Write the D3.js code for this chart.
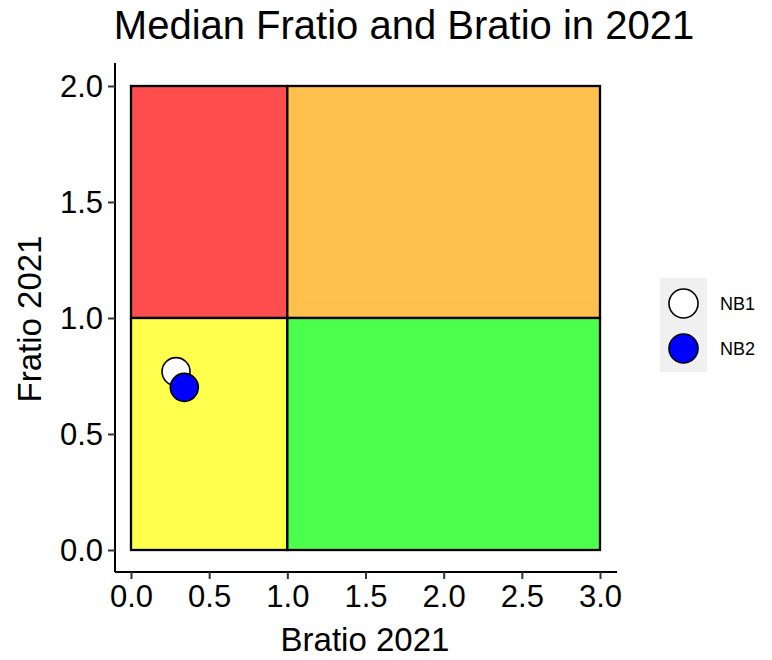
<!DOCTYPE html>
<html><head><meta charset="utf-8">
<script src="https://cdn.jsdelivr.net/npm/d3@7"></script>
<style>body{margin:0;background:#fff;font-family:"Liberation Sans",Arial,sans-serif;}</style>
</head><body>
<svg id="chart" width="772" height="660"></svg>
<script>
// Data
const zones = ["lowB_highF","highB_highF","lowB_lowF","highB_lowF"];
const zoneX0 = [0,1,0,1];
const zoneX1 = [1,3,1,3];
const zoneY0 = [1,1,0,0];
const zoneY1 = [2,2,1,1];
const zoneColors = ["#FF4D4D","#FFC04D","#FFFF4D","#4DFF4D"];
const seriesNames = ["NB1","NB2"];
const bratio = [0.288,0.341];
const fratio = [0.769,0.701];
const seriesFill = ["#FFFFFF","#0000FF"];
const xTicks = [0,0.5,1,1.5,2,2.5,3];
const yTicks = [0,0.5,1,1.5,2];

const svg = d3.select("#chart");
const x = d3.scaleLinear().domain([0,3]).range([131,600]);
const y = d3.scaleLinear().domain([0,2]).range([550,86]);
const xAxisY = 572, yAxisX = 115;

// zones
svg.append("g").selectAll("rect").data(zones).join("rect")
  .attr("x",(d,i)=>x(zoneX0[i])).attr("y",(d,i)=>y(zoneY1[i]))
  .attr("width",(d,i)=>x(zoneX1[i])-x(zoneX0[i]))
  .attr("height",(d,i)=>y(zoneY0[i])-y(zoneY1[i]))
  .attr("fill",(d,i)=>zoneColors[i]).attr("stroke","#000").attr("stroke-width",2.3);

// axes
const fmt = d3.format(".1f");
const xa = svg.append("g").attr("transform",`translate(0,${xAxisY})`)
  .call(d3.axisBottom(x).tickValues(xTicks).tickFormat(fmt).tickSize(7).tickPadding(6).tickSizeOuter(0));
xa.select(".domain").attr("d",`M${yAxisX},0H617`).attr("stroke-width",2);
const ya = svg.append("g").attr("transform",`translate(${yAxisX},0)`)
  .call(d3.axisLeft(y).tickValues(yTicks).tickFormat(fmt).tickSize(7).tickPadding(5).tickSizeOuter(0));
ya.select(".domain").attr("d",`M0,63V${xAxisY}`).attr("stroke-width",2);
svg.selectAll(".tick line").attr("stroke","#333").attr("stroke-width",2);
svg.selectAll(".tick text").attr("font-size",31).attr("fill","#000")
  .attr("font-family","Liberation Sans, Arial, sans-serif");
xa.selectAll(".tick text").attr("dy","0.71em");
ya.selectAll(".tick text").attr("dy","0.35em");

// points
svg.append("g").selectAll("circle").data(seriesNames).join("circle")
  .attr("cx",(d,i)=>x(bratio[i])).attr("cy",(d,i)=>y(fratio[i])).attr("r",14)
  .attr("fill",(d,i)=>seriesFill[i]).attr("stroke","#000").attr("stroke-width",1.6);

// titles
svg.append("text").attr("x",404).attr("y",39).attr("text-anchor","middle")
  .attr("font-size",40).text("Median Fratio and Bratio in 2021");
svg.append("text").attr("x",365).attr("y",651).attr("text-anchor","middle")
  .attr("font-size",33).text("Bratio 2021");
svg.append("text").attr("transform","translate(41,319) rotate(-90)").attr("text-anchor","middle")
  .attr("font-size",33).text("Fratio 2021");

// legend
const lg = svg.append("g");
lg.append("rect").attr("x",660).attr("y",278).attr("width",47).attr("height",94).attr("fill","#F0F0F0");
const ly = d3.scaleBand().domain(seriesNames).range([281,371]);
lg.selectAll("circle").data(seriesNames).join("circle")
  .attr("cx",683.5).attr("cy",d=>ly(d)+ly.bandwidth()/2).attr("r",14.5)
  .attr("fill",(d,i)=>seriesFill[i]).attr("stroke","#000").attr("stroke-width",1.6);
lg.selectAll("text").data(seriesNames).join("text")
  .attr("x",720).attr("y",d=>ly(d)+ly.bandwidth()/2).attr("dy","0.35em")
  .attr("font-size",18).text(d=>d);
</script>
</body></html>
